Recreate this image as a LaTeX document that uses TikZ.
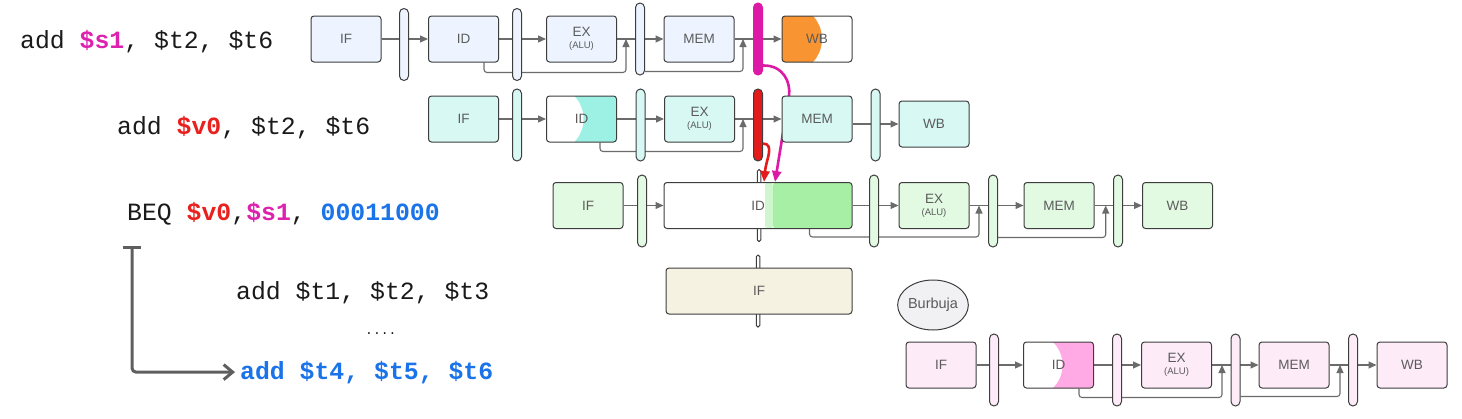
\documentclass[tikz,border=0pt]{standalone}
\usepackage{fontspec}
\setmainfont{Liberation Sans}
\setmonofont{Liberation Mono}
\usetikzlibrary{arrows.meta,shapes.geometric,backgrounds}

\definecolor{edge}{HTML}{3D3D3D}
\definecolor{labelgray}{HTML}{5B5B5B}
\definecolor{flowgray}{HTML}{6B6B6B}
\definecolor{jumpgray}{HTML}{5F5F5F}
\definecolor{codeblack}{HTML}{1A1A1A}
\definecolor{blueA}{HTML}{EDF4FF}
\definecolor{cyanA}{HTML}{D7F8F3}
\definecolor{greenA}{HTML}{E2F9E2}
\definecolor{pinkA}{HTML}{FDEBF8}
\definecolor{creamA}{HTML}{F5F2E2}
\definecolor{bubblefill}{HTML}{F1F1F4}
\definecolor{orangeacc}{HTML}{F89532}
\definecolor{cyanacc}{HTML}{9DF0E4}
\definecolor{greenacc}{HTML}{A8EFA6}
\definecolor{pinkacc}{HTML}{FFA9E5}
\definecolor{hitmag}{HTML}{DC1AA5}
\definecolor{hitred}{HTML}{E41B1B}
\definecolor{magentatxt}{HTML}{DD22B0}
\definecolor{redtxt}{HTML}{E8201E}
\definecolor{bluetxt}{HTML}{1A73E8}

\tikzset{
  stage/.style={draw=edge, line width=1pt, rounded corners=3pt, fill=#1,
    minimum width=70pt, minimum height=46pt, inner sep=0pt, align=center,
    text=labelgray, font=\fontsize{13.5}{15}\selectfont},
  latch/.style={draw=edge, line width=1pt, rounded corners=4.5pt, fill=#1,
    minimum width=9pt, minimum height=72pt, inner sep=0pt},
  thinbar/.style={latch=white, minimum width=3.5pt, rounded corners=1.7pt},
  flow/.style={draw=flowgray, line width=1.1pt, -{Triangle[length=8pt,width=7pt]}},
  feedback/.style={flow, rounded corners=3pt},
  hazard/.style={line width=2.6pt, -{Triangle[length=11pt,width=9pt]}},
  jump/.style={draw=jumpgray, line width=3pt, rounded corners=4pt,
    {Bar[width=18pt]}-{Straight Barb[length=9pt,width=15pt]}},
  code/.style={font=\ttfamily\fontsize{24.8}{28}\selectfont, inner sep=0pt,
    anchor=base west, text=codeblack},
}
\newcommand{\exlabel}{EX\\[-3pt]{\fontsize{9.5}{10}\selectfont(ALU)}}

\begin{document}
\begin{tikzpicture}[x=1pt,y=-1pt]
\useasboundingbox (0,0) rectangle (1462,418);

% instructions
\node[code] (add1) at (20,48.3) {add \textcolor{magentatxt}{\textbf{\$s1}}, \$t2, \$t6};
\node[code] (add2) at (117,134.3) {add \textcolor{redtxt}{\textbf{\$v0}}, \$t2, \$t6};
\node[code] (beq) at (127,220) {BEQ \textcolor{redtxt}{\textbf{\$v0}},\textcolor{magentatxt}{\textbf{\$s1}}, \textcolor{bluetxt}{\textbf{00011000}}};
\node[code] (add3) at (236,299) {add \$t1, \$t2, \$t3};
\node[code, font=\ttfamily\fontsize{13}{14}\selectfont] (gap) at (365,334) {....};
\node[code, text=bluetxt] (add4) at (240,379) {\textbf{add \$t4, \$t5, \$t6}};
\coordinate (beqtail) at (132,246);
\draw[jump] (beqtail) |- ([xshift=-5pt]add4.west);

% pipeline add $s1
\node[stage=blueA] (if1) at (346,39) {IF};
\node[latch=blueA] (l11) at (404,44.5) {};
\node[stage=blueA] (id1) at (463.5,39) {ID};
\node[latch=blueA] (l12) at (517,44.5) {};
\node[stage=blueA] (ex1) at (581.5,39) {\exlabel};
\node[latch=blueA] (l13) at (640,39) {};
\node[stage=blueA] (mem1) at (699,39) {MEM};
\node[latch=hitmag, draw=hitmag] (l14) at (758,39) {};
\node[stage=white, path picture={\fill[orangeacc] ([xshift=6pt]path picture bounding box.west) circle[radius=34pt];}] (wb1) at (817,39) {WB};

% pipeline add $v0
\node[stage=cyanA] (if2) at (463.5,119) {IF};
\node[latch=cyanA] (l21) at (517,125) {};
\node[stage=cyanacc, path picture={\fill[white] ([xshift=4pt]path picture bounding box.west) circle[radius=33pt];}] (id2) at (581.5,119) {ID};
\node[latch=cyanA] (l22) at (640.5,125) {};
\node[stage=cyanA] (ex2) at (699.5,119) {\exlabel};
\node[latch=hitred] (l23) at (758,125) {};
\node[stage=cyanA] (mem2) at (817,119) {MEM};
\node[latch=cyanA] (l24) at (875.5,125) {};
\node[stage=cyanA] (wb2) at (934,124) {WB};

% pipeline BEQ
\node[stage=greenA] (if3) at (588,205.5) {IF};
\node[latch=greenA] (l31) at (642,211) {};
\node[thinbar] (bar3) at (759,205.5) {};
\node[stage=white, minimum width=188pt, path picture={
    \shade[left color=white, right color=greenacc] ([xshift=7pt]path picture bounding box.north) rectangle ([xshift=15pt]path picture bounding box.south);
    \fill[greenacc] ([xshift=15pt]path picture bounding box.north) rectangle (path picture bounding box.south east);}] (id3) at (758,205.5) {ID};
\node[latch=greenA] (l32) at (874,211) {};
\node[stage=greenA] (ex3) at (934,205.5) {\exlabel};
\node[latch=greenA] (l33) at (993,211) {};
\node[stage=greenA] (mem3) at (1059,205.5) {MEM};
\node[latch=greenA] (l34) at (1118,211) {};
\node[stage=greenA] (wb3) at (1177.5,205.5) {WB};

% stalled fetch
\node[thinbar] (bar4) at (758,291) {};
\node[stage=creamA, minimum width=186pt] (if4) at (759,291) {IF};
\node[ellipse, draw=edge, line width=1pt, fill=bubblefill, minimum width=67pt, minimum height=50pt,
  inner sep=0pt, text=labelgray, font=\fontsize{14.5}{16}\selectfont] (bubble) at (933,305) {Burbuja};

% pipeline add $t4
\node[stage=pinkA] (if5) at (941,365) {IF};
\node[latch=pinkA] (l51) at (994,370) {};
\node[stage=pinkacc, path picture={\fill[white] ([xshift=7pt]path picture bounding box.west) circle[radius=32pt];}] (id5) at (1058.5,365) {ID};
\node[latch=pinkA] (l52) at (1117,370) {};
\node[stage=pinkA] (ex5) at (1176.5,365) {\exlabel};
\node[latch=pinkA] (l53) at (1235.5,370) {};
\node[stage=pinkA] (mem5) at (1294,365) {MEM};
\node[latch=pinkA] (l54) at (1353,370) {};
\node[stage=pinkA] (wb5) at (1412,365) {WB};

\coordinate (j11) at (626,39);
\coordinate (j12) at (743,39);
\coordinate (j21) at (743,119);
\coordinate (j31) at (979,205.5);
\coordinate (j32) at (1105.7,205.5);
\coordinate (j51) at (1222,365);
\coordinate (j52) at (1340,365);

\begin{pgfonlayer}{background}
  \draw[flow] (if1.east) -- (id1.west);
  \draw[flow] (id1.east) -- (ex1.west);
  \draw[flow] (ex1.east) -- (mem1.west);
  \draw[flow] (mem1.east) -- (wb1.west);
  \draw[feedback] ([xshift=-15pt]id1.south east) -- ++(0,10) -| (j11);
  \draw[feedback] ([yshift=4pt]l13.south east) -| (j12);

  \draw[flow] (if2.east) -- (id2.west);
  \draw[flow] (id2.east) -- (ex2.west);
  \draw[flow] (ex2.east) -- (mem2.west);
  \draw[flow] (mem2.east |- wb2.west) -- (wb2.west);
  \draw[feedback] ([xshift=-17pt]id2.south east) -- ++(0,9) -| (j21);

  \draw[flow] (if3.east) -- (id3.west);
  \draw[flow] (id3.east) -- (ex3.west);
  \draw[flow] (ex3.east) -- (mem3.west);
  \draw[flow] (mem3.east) -- (wb3.west);
  \draw[feedback] ([xshift=-43pt]id3.south east) -- ++(0,8) -| (j31);
  \draw[feedback] ([yshift=10pt]l33.south east) -| (j32);

  \draw[flow] (if5.east) -- (id5.west);
  \draw[flow] (id5.east) -- (ex5.west);
  \draw[flow] (ex5.east) -- (mem5.west);
  \draw[flow] (mem5.east) -- (wb5.west);
  \draw[feedback] ([xshift=-15pt]id5.south east) -- ++(0,9) -| (j51);
  \draw[feedback] ([yshift=10pt]l53.south east) -| (j52);

  % forwarding of $s1
  \draw[hazard, hitmag] ([yshift=10pt]l14.south east) .. controls (783,65) and (791,82) .. (789,96) -- ([xshift=17pt]id3.north);
\end{pgfonlayer}

% forwarding of $v0
\draw[hazard, hitred] ([yshift=18pt]l23.south east) .. controls (775,144) and (766,160) .. ([xshift=6pt]id3.north);
\end{tikzpicture}
\end{document}
